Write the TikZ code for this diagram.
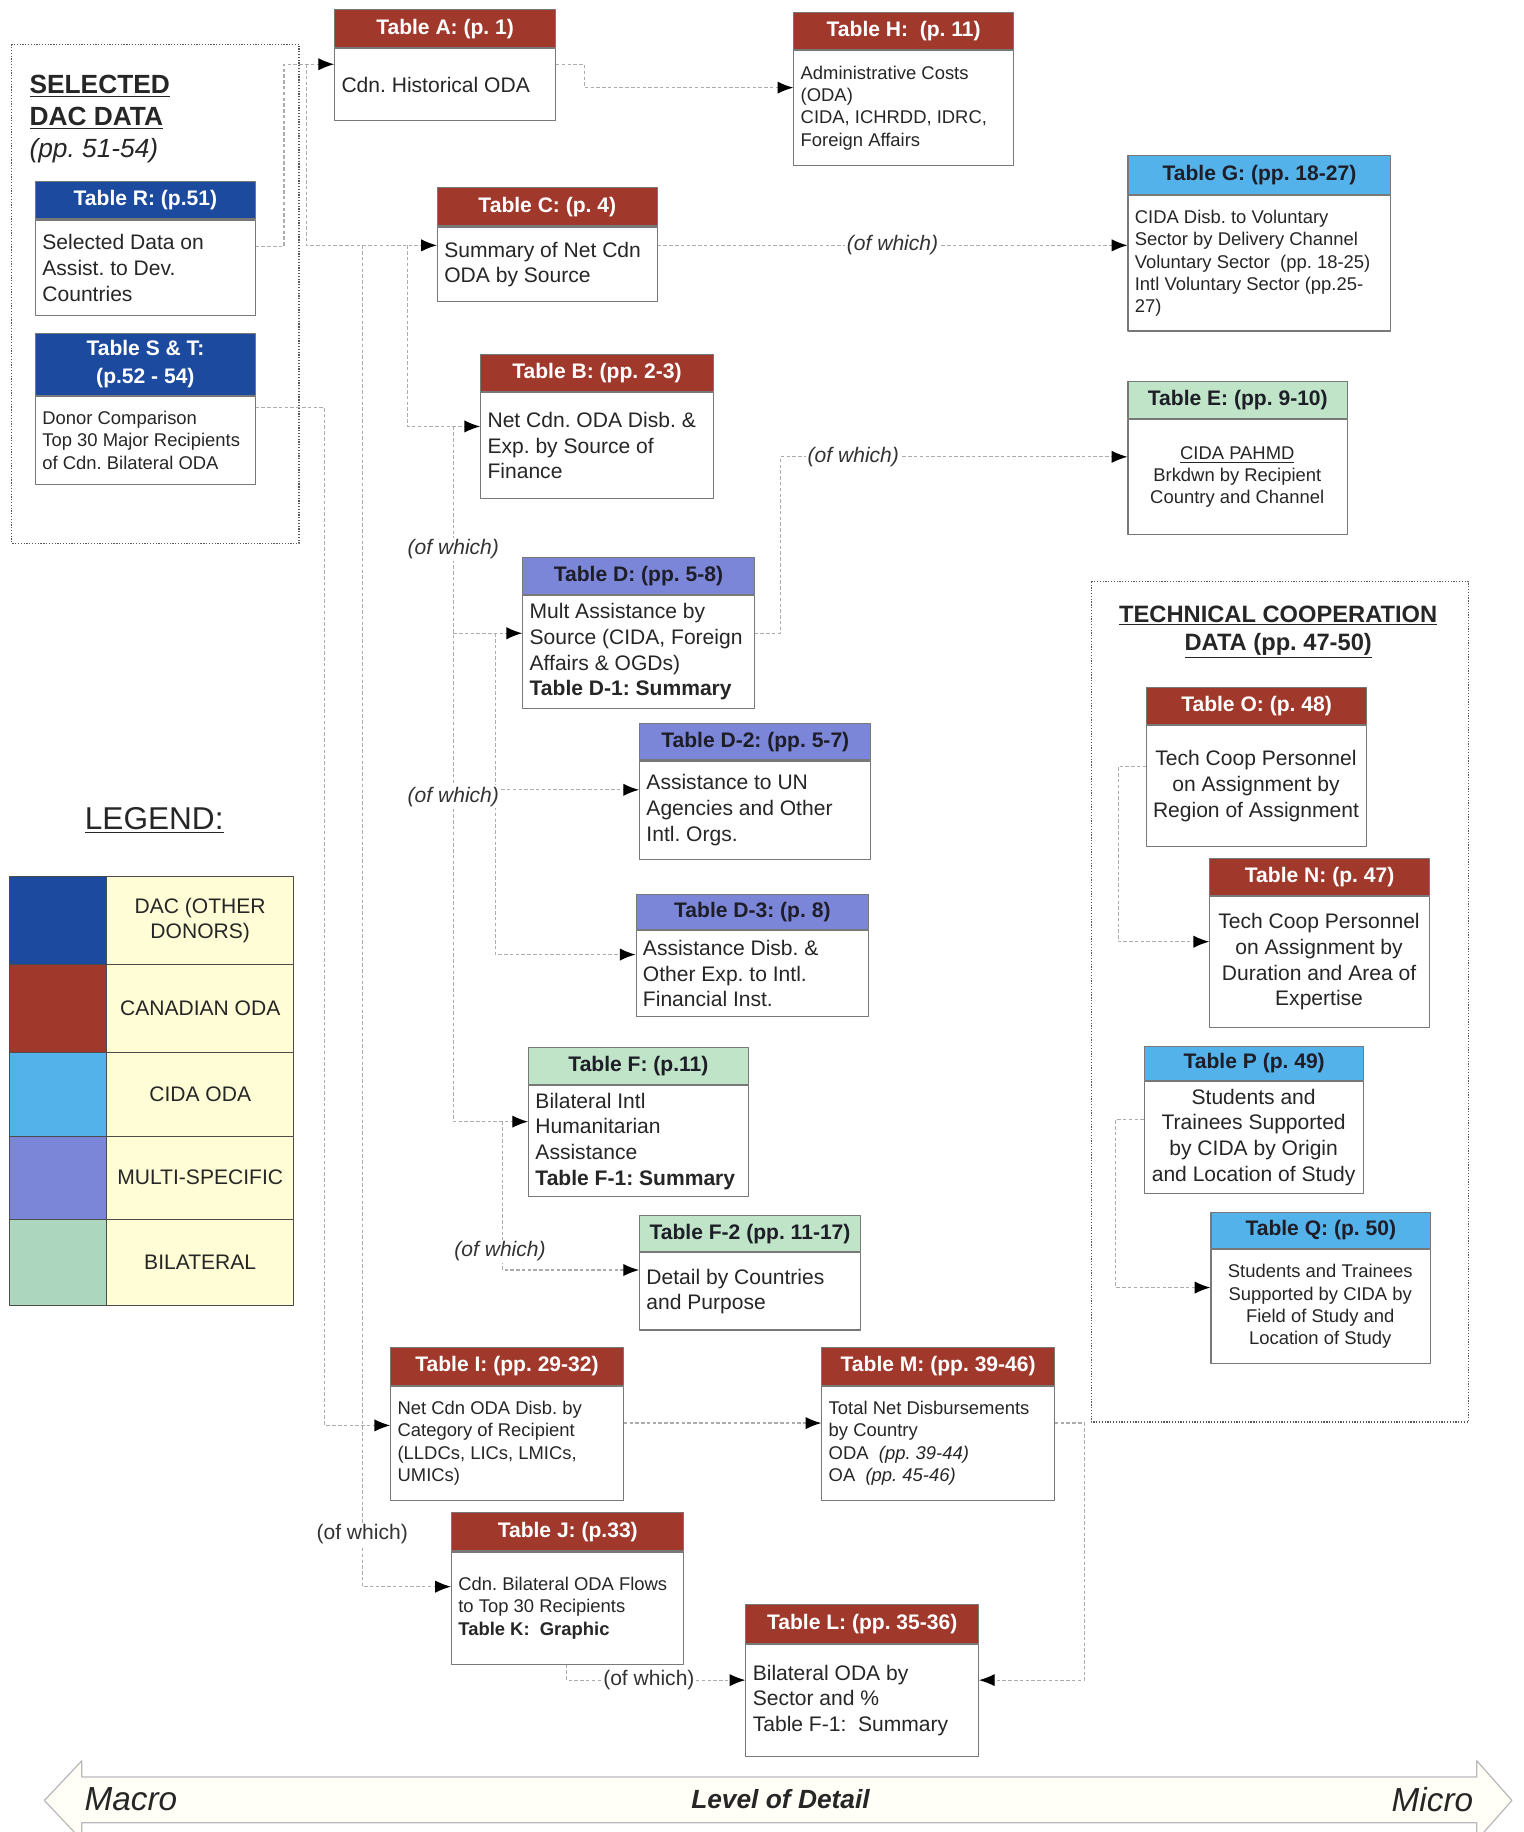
\documentclass[tikz,border=0pt]{standalone}
\usepackage{fontspec}
\setmainfont{Liberation Sans}
\frenchspacing
\usetikzlibrary{arrows.meta,positioning}

\definecolor{canred}{RGB}{160,56,44}
\definecolor{dacblue}{RGB}{28,74,158}
\definecolor{cidablue}{RGB}{84,178,234}
\definecolor{multi}{RGB}{124,134,216}
\definecolor{bilat}{RGB}{192,228,200}
\definecolor{legbil}{RGB}{172,214,190}
\definecolor{legyel}{RGB}{255,253,214}
\definecolor{boxgray}{RGB}{120,120,120}
\definecolor{hdrtext}{RGB}{30,30,40}

\tikzset{
  hdr/.style={draw=boxgray, line width=0.6pt, inner sep=0pt, align=center,
    font=\fontsize{12}{16}\selectfont\bfseries},
  hcan/.style={hdr, fill=canred, text=white},
  hdac/.style={hdr, fill=dacblue, text=white},
  hcida/.style={hdr, fill=cidablue, text=hdrtext},
  hmulti/.style={hdr, fill=multi, text=hdrtext},
  hbil/.style={hdr, fill=bilat, text=hdrtext},
  tframe/.style={draw=boxgray, line width=0.6pt, fill=white, inner sep=0pt},
  tbody/.style={anchor=west, xshift=4pt, inner sep=0pt, align=left, text=black!85,
    font=\fontsize{12}{14.6}\selectfont},
  tsmall/.style={tbody, font=\fontsize{10.5}{12.7}\selectfont},
  tcentre/.style={anchor=center, xshift=0.5*\tbw pt, inner sep=0pt, align=center, text=black!85,
    font=\fontsize{12}{14.6}\selectfont},
  tsmallc/.style={tcentre, font=\fontsize{10.5}{12.7}\selectfont},
  link/.style={draw=gray!65, line width=0.7pt, dash pattern=on 2pt off 1.3pt,
    -{Latex[length=9pt,width=7pt,color=black]}},
  ofw/.style={fill=white, inner sep=1pt, text=black!80, font=\fontsize{12}{14}\selectfont\itshape},
  ofwup/.style={ofw, font=\fontsize{12}{14}\selectfont\upshape},
  dotbox/.style={draw=gray!70!black, line width=0.7pt, dash pattern=on 0.7pt off 0.9pt},
  legcell/.style={draw=gray!60!black, line width=0.5pt, inner sep=0pt, anchor=north west},
  legtxt/.style={legcell, fill=legyel, align=center, text=black!85, font=\fontsize{12}{14}\selectfont},
  arrowbody/.style={draw=gray!55, line width=0.7pt, fill=yellow!3}
}

% one table: name, x,y of top left, width, header height, body height, header style, text style, title, text
\newcommand{\tablebox}[9]{%
  \pgfmathsetmacro{\tbw}{#3*0.6658}%
  \node[#6, minimum width=\tbw pt, minimum height=#4*0.6658pt, anchor=north west] (#1h) at (#2) {#8};
  \node[tframe, minimum width=\tbw pt, minimum height=#5*0.6658pt, anchor=north] (#1) at (#1h.south) {};
  \node[#7] (#1t) at (#1.west) {#9};
}

\begin{document}
\begin{tikzpicture}[x=0.0234cm, y=-0.0234cm, line join=round]
  \useasboundingbox (0,0) rectangle (1304,1568);

  % dotted groups
  \draw[dotbox] (10,38) rectangle (256,465);
  \draw[dotbox] (934,498) rectangle (1257,1217);
  \node[anchor=west, align=left, text=black!85, font=\fontsize{15}{18.3}\selectfont] (dactitle) at (20,102)
    {\textbf{\underline{SELECTED}}\\\textbf{\underline{DAC DATA}}\\\textit{(pp. 51-54)}};
  \node[align=center, text=black!85, font=\fontsize{13.5}{16}\selectfont\bfseries] (tctitle) at (1094,541)
    {\underline{TECHNICAL COOPERATION}\\\underline{DATA (pp. 47-50)}};

  % tables
  \tablebox{tA}{286,8}{189}{32}{62}{hcan}{tbody}{Table A: (p. 1)}{Cdn. Historical ODA}
  \tablebox{tH}{679,10}{188}{32}{98}{hcan}{tsmall}{Table H:~~(p. 11)}
    {Administrative Costs\\(ODA)\\CIDA, ICHRDD, IDRC,\\Foreign Affairs}
  \tablebox{tC}{374,160}{188}{33}{64}{hcan}{tbody}{Table C: (p. 4)}{Summary of Net Cdn\\ODA by Source}
  \tablebox{tG}{965,133}{225}{33}{116}{hcida}{tsmall}{Table G: (pp. 18-27)}
    {CIDA Disb. to Voluntary\\Sector by Delivery Channel\\Voluntary Sector~~(pp. 18-25)\\Intl Voluntary Sector (pp.25-\\27)}
  \tablebox{tB}{411,303}{199}{32}{90}{hcan}{tbody}{Table B: (pp. 2-3)}
    {Net Cdn. ODA Disb. \&\\Exp. by Source of\\Finance}
  \tablebox{tE}{965,326}{188}{32}{98}{hbil}{tsmallc}{Table E: (pp. 9-10)}
    {\underline{CIDA PAHMD}\\Brkdwn by Recipient\\Country and Channel}
  \tablebox{tD}{447,477}{198}{31}{97}{hmulti}{tbody}{Table D: (pp. 5-8)}
    {Mult Assistance by\\Source (CIDA, Foreign\\Affairs \& OGDs)\\\textbf{Table D-1: Summary}}
  \tablebox{tDtwo}{547,619}{198}{31}{84}{hmulti}{tbody}{Table D-2: (pp. 5-7)}
    {Assistance to UN\\Agencies and Other\\Intl. Orgs.}
  \tablebox{tDthree}{544,765}{199}{30}{74}{hmulti}{tbody}{Table D-3: (p. 8)}
    {Assistance Disb. \&\\Other Exp. to Intl.\\Financial Inst.}
  \tablebox{tF}{452,896}{188}{32}{95}{hbil}{tbody}{Table F: (p.11)}
    {Bilateral Intl\\Humanitarian\\Assistance\\\textbf{Table F-1: Summary}}
  \tablebox{tFtwo}{547,1040}{189}{31}{66}{hbil}{tbody}{Table F-2 (pp. 11-17)}
    {Detail by Countries\\and Purpose}
  \tablebox{tI}{334,1153}{199}{32}{98}{hcan}{tsmall}{Table I: (pp. 29-32)}
    {Net Cdn ODA Disb. by\\Category of Recipient\\(LLDCs, LICs, LMICs,\\UMICs)}
  \tablebox{tM}{703,1153}{199}{32}{98}{hcan}{tsmall}{Table M: (pp. 39-46)}
    {Total Net Disbursements\\by Country\\ODA~~\textit{(pp. 39-44)}\\OA~~\textit{(pp. 45-46)}}
  \tablebox{tJ}{386,1294}{199}{33}{96}{hcan}{tsmall}{Table J: (p.33)}
    {Cdn. Bilateral ODA Flows\\to Top 30 Recipients\\\textbf{Table K:~~Graphic}}
  \tablebox{tL}{638,1373}{199}{33}{96}{hcan}{tbody}{Table L: (pp. 35-36)}
    {Bilateral ODA by\\Sector and \%\\Table F-1:~~Summary}
  \tablebox{tR}{30,155}{188}{32}{82}{hdac}{tbody}{Table R: (p.51)}
    {Selected Data on\\Assist. to Dev.\\Countries}
  \tablebox{tST}{30,285}{188}{53}{75}{hdac}{tsmall}{Table S \& T:\\(p.52 - 54)}
    {Donor Comparison\\Top 30 Major Recipients\\of Cdn. Bilateral ODA}
  \tablebox{tO}{981,588}{188}{32}{103}{hcan}{tcentre}{Table O: (p. 48)}
    {Tech Coop Personnel\\on Assignment by\\Region of Assignment}
  \tablebox{tN}{1035,734}{188}{32}{112}{hcan}{tcentre}{Table N: (p. 47)}
    {Tech Coop Personnel\\on Assignment by\\Duration and Area of\\Expertise}
  \tablebox{tP}{979,895}{188}{29}{96}{hcida}{tcentre}{Table P (p. 49)}
    {Students and\\Trainees Supported\\by CIDA by Origin\\and Location of Study}
  \tablebox{tQ}{1036,1037}{188}{31}{98}{hcida}{tsmallc}{Table Q: (p. 50)}
    {Students and Trainees\\Supported by CIDA by\\Field of Study and\\Location of Study}

  % connectors, DAC side
  \coordinate (rUp) at (243,55);
  \coordinate (aDown) at (262,55);
  \coordinate (cTrunk) at (310,210);
  \coordinate (cB) at (349,210);
  \coordinate (bTrunk) at (388,365);
  \coordinate (bD) at (388,542);
  \coordinate (dTrunk) at (424,542);
  \coordinate (dDtwo) at (424,676);
  \coordinate (fTrunk) at (430,960);
  \coordinate (sCorner) at (278,349);
  \draw[link] (tR.east |- 0,211) -| (rUp) -- (tA.west |- rUp);
  \draw[link] (aDown) |- (tC.west |- cB);
  \draw[link] (cTrunk) |- (tJ.west |- 0,1358);
  \draw[link] (cB) |- (tB.west |- bTrunk);
  \draw[link] (bTrunk) |- (tF.west |- fTrunk);
  \draw[link] (bD) -- (tD.west |- bD);
  \draw[link] (dTrunk) |- (tDthree.west |- 0,817);
  \draw[link] (dDtwo) -- (tDtwo.west |- dDtwo);
  \draw[link] (fTrunk) |- (tFtwo.west |- 0,1087);
  \draw[link] (tST.east |- sCorner) -- (sCorner) |- (tI.west |- 0,1220);

  % connectors, right side
  \coordinate (aH) at (500,75);
  \coordinate (dE) at (668,391);
  \coordinate (mL) at (928,1438);
  \draw[link] (tA.east |- rUp) -| (aH) -- (tH.west |- aH);
  \draw[link] (tC.east |- cB) -- node[ofw] (ofCG) {(of which)} (tG.west |- cB);
  \draw[link] (tD.east |- bD) -| (dE) -- node[ofw, pos=0.21] (ofDE) {(of which)} (tE.west |- dE);
  \draw[link] (tI.east |- 0,1218) -- (tM.west |- 0,1218);
  \draw[link] (tM.east |- 0,1218) -| (mL) -- (tL.east |- mL);
  \draw[link] (tJ.south -| 485,0) |- node[ofwup, pos=0.73] (ofJL) {(of which)} (tL.west |- mL);

  % tech coop
  \coordinate (oN) at (957,806);
  \coordinate (pQ) at (955,1102);
  \draw[link] (tO.west |- 0,656) -| (oN) -- (tN.west |- oN);
  \draw[link] (tP.west |- 0,958) -| (pQ) -- (tQ.west |- pQ);

  % labels on trunks
  \node[ofwup] (ofCJ) at (310,1313) {(of which)};
  \node[ofw] (ofBD) at (388,470) {(of which)};
  \node[ofw] (ofDD) at (388,682) {(of which)};
  \node[ofw] (ofFF) at (428,1071) {(of which)};

  % legend
  \node[text=black!85, font=\fontsize{18}{20}\selectfont] (legtitle) at (132,702) {\underline{LEGEND:}};
  \foreach \fc/\lab/\ya/\yb [count=\k] in {dacblue/{DAC (OTHER\\DONORS)}/750/825,
      canred/{CANADIAN ODA}/825/900, cidablue/{CIDA ODA}/900/972,
      multi/{MULTI-SPECIFIC}/972/1043, legbil/{BILATERAL}/1043/1117}{
    \node[legcell, fill=\fc, minimum width=83*0.6658pt, minimum height={(\yb-\ya)*0.6658pt}] (lc\k) at (8,\ya) {};
    \node[legtxt, minimum width=160*0.6658pt, minimum height={(\yb-\ya)*0.6658pt}] (lt\k) at (91,\ya) {\lab};
  }

  % level of detail arrow
  \draw[arrowbody] (38,1541) -- (70,1507) -- (70,1521) -- (1264,1521) -- (1264,1507) -- (1294,1541)
    -- (1264,1575) -- (1264,1560) -- (70,1560) -- (70,1575) -- cycle;
  \node[text=black!85, font=\fontsize{19}{22}\selectfont\itshape] (macro) at (112,1540) {Macro};
  \node[text=black!85, font=\fontsize{15}{18}\selectfont\bfseries\itshape] (detail) at (668,1540) {Level of Detail};
  \node[text=black!85, font=\fontsize{19}{22}\selectfont\itshape] (micro) at (1226,1540) {Micro};
\end{tikzpicture}
\end{document}
